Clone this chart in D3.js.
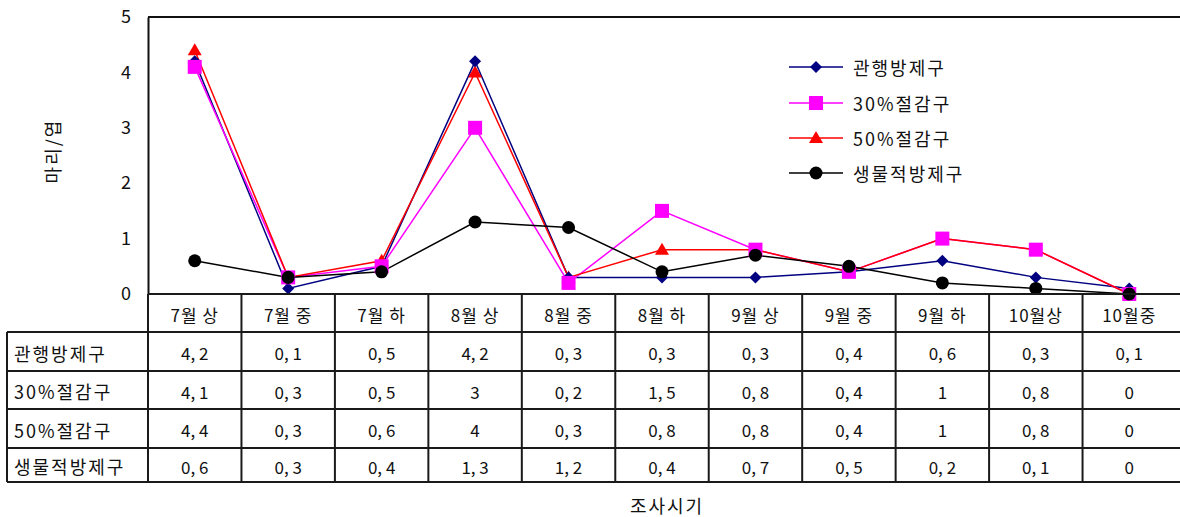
<!DOCTYPE html>
<html>
<head>
<meta charset="utf-8">
<script src="https://cdn.jsdelivr.net/npm/d3@7"></script>
<style>
  html, body { margin: 0; padding: 0; background: #fff; }
  svg { display: block; }
  text { font-family: "Noto Sans CJK KR", "Noto Sans", sans-serif; fill: #111; }
</style>
</head>
<body>
<svg id="chart" width="1180" height="517"></svg>
<script>
// Survey periods (columns) and the four treatment series
const periods = ["7월 상", "7월 중", "7월 하", "8월 상", "8월 중", "8월 하", "9월 상", "9월 중", "9월 하", "10월상", "10월중"];
const seriesNames = ["관행방제구", "30%절감구", "50%절감구", "생물적방제구"];
const conventional = [4.2, 0.1, 0.5, 4.2, 0.3, 0.3, 0.3, 0.4, 0.6, 0.3, 0.1];
const reduced30 = [4.1, 0.3, 0.5, 3, 0.2, 1.5, 0.8, 0.4, 1, 0.8, 0];
const reduced50 = [4.4, 0.3, 0.6, 4, 0.3, 0.8, 0.8, 0.4, 1, 0.8, 0];
const biological = [0.6, 0.3, 0.4, 1.3, 1.2, 0.4, 0.7, 0.5, 0.2, 0.1, 0];
const yTicks = [0, 1, 2, 3, 4, 5];
const yTitle = "마리/엽";
const xTitle = "조사시기";

const seriesValues = [conventional, reduced30, reduced50, biological];
const colors = ["#000080", "#ff00ff", "#ff0000", "#000000"];
const shapes = ["diamond", "square", "triangle", "circle"];
// stacking order of the markers (later ones sit on top)
const markerOrder = [2, 0, 1, 3];

const svg = d3.select("#chart");

const plotLeft = 148, plotRight = 1176, plotTop = 17, plotBottom = 294;
const x = d3.scaleBand().domain(periods).range([plotLeft, plotRight]);
const y = d3.scaleLinear().domain([0, 5]).range([plotBottom, plotTop]);

// Marker shapes
function markerPath(shape) {
  switch (shape) {
    case "diamond": return "M0,-6L6,0L0,6L-6,0Z";
    case "square": return "M-7,-7H7V7H-7Z";
    case "triangle": return "M0,-7L7,5L-7,5Z";
    default: return d3.symbol(d3.symbolCircle, 133)();
  }
}

// Plot frame: top border and left axis
svg.append("line").attr("x1", plotLeft).attr("x2", 1180).attr("y1", plotTop).attr("y2", plotTop)
  .attr("stroke", "#111").attr("stroke-width", 2);

const yAxis = svg.append("g").attr("transform", `translate(${plotLeft},0)`)
  .call(d3.axisLeft(y).tickValues(yTicks).tickSize(0).tickPadding(17).tickFormat(d3.format("d")));
yAxis.select(".domain").attr("stroke", "#111").attr("stroke-width", 2);
yAxis.selectAll("text").style("font-family", "\"Noto Sans CJK KR\", sans-serif")
  .style("font-size", "18px").attr("fill", "#111");

// Y axis title
svg.append("text")
  .attr("transform", "translate(52,151) rotate(-90)")
  .attr("text-anchor", "middle").attr("dominant-baseline", "central")
  .style("font-size", "18px").style("letter-spacing", "2px")
  .text(yTitle);

// Series lines and markers
const line = d3.line()
  .x((d, i) => x(periods[i]) + x.bandwidth() / 2)
  .y(d => y(d));

seriesValues.forEach((vals, s) => {
  svg.append("path").datum(vals)
    .attr("d", line).attr("fill", "none")
    .attr("stroke", colors[s]).attr("stroke-width", 1.5);
});
markerOrder.forEach(s => {
  svg.append("g").selectAll("path").data(seriesValues[s]).join("path")
    .attr("d", markerPath(shapes[s]))
    .attr("transform", (d, i) => `translate(${x(periods[i]) + x.bandwidth() / 2},${y(d)})`)
    .attr("fill", colors[s]);
});

// Legend
const legendRows = [67, 103, 138, 173];
seriesNames.forEach((name, s) => {
  const g = svg.append("g").attr("transform", `translate(0,${legendRows[s]})`);
  g.append("line").attr("x1", 789).attr("x2", 843).attr("y1", 0).attr("y2", 0)
    .attr("stroke", colors[s]).attr("stroke-width", 1.5);
  g.append("path").attr("d", markerPath(shapes[s])).attr("transform", "translate(816,0)")
    .attr("fill", colors[s]);
  g.append("text").attr("x", 853).attr("y", 0).attr("dominant-baseline", "central")
    .style("font-size", "18px").style("letter-spacing", "2px").text(name);
});

// Data table under the plot
const rowLines = [294, 332, 371, 409, 448, 482];
const tableLeft = 7;
const tbl = svg.append("g");
const stroke = "#1a1a1a";

// horizontal rules
tbl.append("line").attr("x1", plotLeft).attr("x2", 1180).attr("y1", rowLines[0]).attr("y2", rowLines[0])
  .attr("stroke", stroke).attr("stroke-width", 2);
rowLines.slice(1).forEach(yy => {
  tbl.append("line").attr("x1", tableLeft).attr("x2", 1180).attr("y1", yy).attr("y2", yy)
    .attr("stroke", stroke).attr("stroke-width", 2);
});
// vertical rules
tbl.append("line").attr("x1", tableLeft).attr("x2", tableLeft).attr("y1", rowLines[1]).attr("y2", rowLines[5])
  .attr("stroke", stroke).attr("stroke-width", 2);
periods.forEach(p => {
  tbl.append("line").attr("x1", x(p)).attr("x2", x(p)).attr("y1", rowLines[0]).attr("y2", rowLines[5])
    .attr("stroke", stroke).attr("stroke-width", 2);
});

// header labels
periods.forEach(p => {
  tbl.append("text").attr("x", x(p) + x.bandwidth() / 2).attr("y", (rowLines[0] + rowLines[1]) / 2 + 1)
    .attr("text-anchor", "middle").attr("dominant-baseline", "central")
    .style("font-size", "17px").style("letter-spacing", "1px").text(p);
});

// row labels and values
const fmt = v => String(v).replace(".", ", ");
seriesNames.forEach((name, s) => {
  const cy = (rowLines[s + 1] + rowLines[s + 2]) / 2 + 1;
  tbl.append("text").attr("x", 14).attr("y", cy).attr("dominant-baseline", "central")
    .style("font-size", "18px").style("letter-spacing", "2px").text(name);
  seriesValues[s].forEach((v, i) => {
    tbl.append("text").attr("x", x(periods[i]) + x.bandwidth() / 2).attr("y", cy)
      .attr("text-anchor", "middle").attr("dominant-baseline", "central")
      .style("font-size", "17px").text(fmt(v));
  });
});

// X axis title
svg.append("text").attr("x", 667).attr("y", 505)
  .attr("text-anchor", "middle").attr("dominant-baseline", "central")
  .style("font-size", "18px").style("letter-spacing", "2px").text(xTitle);
</script>
</body>
</html>
